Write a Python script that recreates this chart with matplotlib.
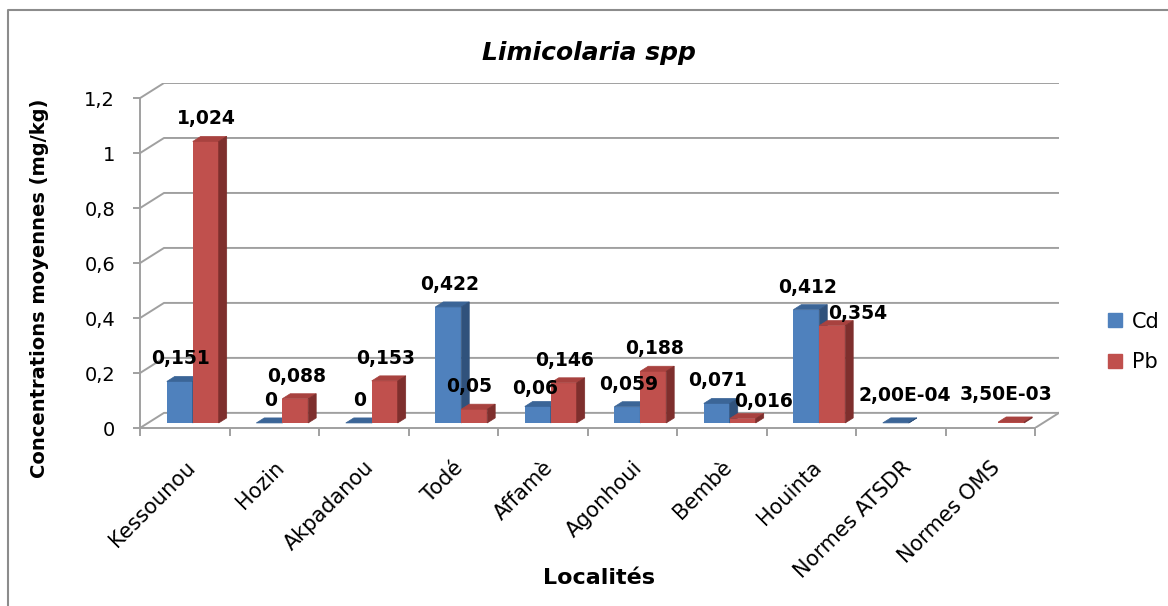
import numpy as np
import matplotlib
matplotlib.use("Agg")
import matplotlib.pyplot as plt
from matplotlib.patches import Polygon
from matplotlib.lines import Line2D

localites = ['Kessounou', 'Hozin', 'Akpadanou', 'Todé', 'Affamè', 'Agonhoui',
             'Bembè', 'Houinta', 'Normes ATSDR', 'Normes OMS']
cd = [0.151, 0, 0, 0.422, 0.06, 0.059, 0.071, 0.412, 2.0e-4, np.nan]
pb = [1.024, 0.088, 0.153, 0.05, 0.146, 0.188, 0.016, 0.354, np.nan, 3.5e-3]
yticks = [0, 0.2, 0.4, 0.6, 0.8, 1.0, 1.2]
ytick_labels = ['0', '0,2', '0,4', '0,6', '0,8', '1', '1,2']

# pseudo 3d box: depth of the wall and of the bars, in data units
DX, DY = 0.268, 0.055
Z0, ZD = 1 / 3, 1 / 3
W = 0.29
grid = '#a0a0a0'

colors = {
    'Cd': ('#4f81bd', '#3b6597', '#30527c'),
    'Pb': ('#c0504d', '#a8423f', '#7e2f2d'),
}
# small nudges of some data labels (pixels) to mimic the original layout
label_shift = {('Pb', 7): (24, -10), ('Pb', 6): (20, -5), ('Pb', 3): (-6, 0),
               ('Cd', 4): (-4, -5), ('Cd', 8): (8, 5), ('Pb', 9): (-6, 5)}


def fmt(v):
    if 0 < v < 0.01:
        return f"{v:.2E}".replace('.', ',')
    return f"{v:g}".replace('.', ',')


fig = plt.figure(figsize=(11.68, 6.06), dpi=100)
ax = fig.add_axes([140 / 1168, 178 / 606, 919 / 1168, 345 / 606])
n = len(localites)
ax.set_xlim(0, n + DX)
ax.set_ylim(0, 1.2 + DY)

# walls / gridlines
for y in yticks:
    ax.plot([0, DX, n + DX], [y, y + DY, y + DY], color=grid, lw=1.4, zorder=1,
            solid_capstyle='butt')
ax.plot([n, n + DX], [0, DY], color=grid, lw=1.4, zorder=1)

for s in ['top', 'right']:
    ax.spines[s].set_visible(False)
ax.spines['left'].set_bounds(0, 1.2)
ax.spines['bottom'].set_bounds(0, n)
for s in ['left', 'bottom']:
    ax.spines[s].set_color(grid)
    ax.spines[s].set_linewidth(1.4)

ax.set_yticks(yticks)
ax.set_yticklabels(ytick_labels, fontsize=14)
ax.tick_params(axis='y', length=5, width=1.4, color=grid, pad=13)
ax.set_xticks(np.arange(n + 1))
ax.set_xticklabels([])
ax.tick_params(axis='x', which='major', length=6, width=1.4, color=grid)
ax.set_xticks(np.arange(n) + 0.5, minor=True)
ax.set_xticklabels(localites, minor=True, fontsize=15, rotation=45)
ax.tick_params(axis='x', which='minor', length=0, pad=21)
for t in ax.get_xticklabels(minor=True):
    t.set_ha('right')
    t.set_rotation_mode('anchor')

ox, oy = DX * Z0, DY * Z0
bx, by = DX * ZD, DY * ZD
handles = []
for name, vals, shift in [('Cd', cd, -W), ('Pb', pb, 0)]:
    front, top, side = colors[name]
    for i, v in enumerate(vals):
        if np.isnan(v):
            continue
        x0 = i + 0.5 + shift
        ax.bar(x0 + ox, v, width=W, bottom=oy, align='edge', color=front,
               lw=0, zorder=3)
        ax.add_patch(Polygon([(x0 + ox, v + oy), (x0 + W + ox, v + oy),
                              (x0 + W + ox + bx, v + oy + by), (x0 + ox + bx, v + oy + by)],
                             closed=True, fc=top, ec=top, lw=0.5, zorder=3))
        ax.add_patch(Polygon([(x0 + W + ox, oy), (x0 + W + ox + bx, oy + by),
                              (x0 + W + ox + bx, v + oy + by), (x0 + W + ox, v + oy)],
                             closed=True, fc=side, ec=side, lw=0.5, zorder=3))
        sx, sy = label_shift.get((name, i), (0, 0))
        ax.annotate(fmt(v), (x0 + ox + W / 2 + bx / 2, v + oy + by),
                    xytext=((sx - 3) * 0.72, (12 + sy) * 0.72),
                    textcoords='offset points', ha='center', va='baseline',
                    fontsize=13.5, fontweight='bold', zorder=5)
    handles.append(Line2D([], [], ls='none', marker='s', markersize=10,
                          markerfacecolor=front, markeredgecolor=front, label=name))

fig.legend(handles=handles, loc='center left', bbox_to_anchor=(1088 / 1168, 1 - 342 / 606),
           frameon=False, fontsize=15, handlelength=0.8, handletextpad=0.4, labelspacing=1.0)

fig.text(589 / 1168, 1 - 53 / 606, 'Limicolaria spp', fontsize=18, fontweight='bold',
         fontstyle='italic', ha='center', va='center')
fig.text(40 / 1168, 1 - 288 / 606, 'Concentrations moyennes (mg/kg)', fontsize=14,
         fontweight='bold', rotation=90, ha='center', va='center')
fig.text(599 / 1168, 1 - 578 / 606, 'Localités', fontsize=16, fontweight='bold',
         ha='center', va='center')

# chart border
fig.add_artist(Line2D([8 / 1168, 8 / 1168, 1], [0, 1 - 10 / 606, 1 - 10 / 606],
                      color='#8c8c8c', lw=1.5))

fig.savefig('out.png', dpi=100)
